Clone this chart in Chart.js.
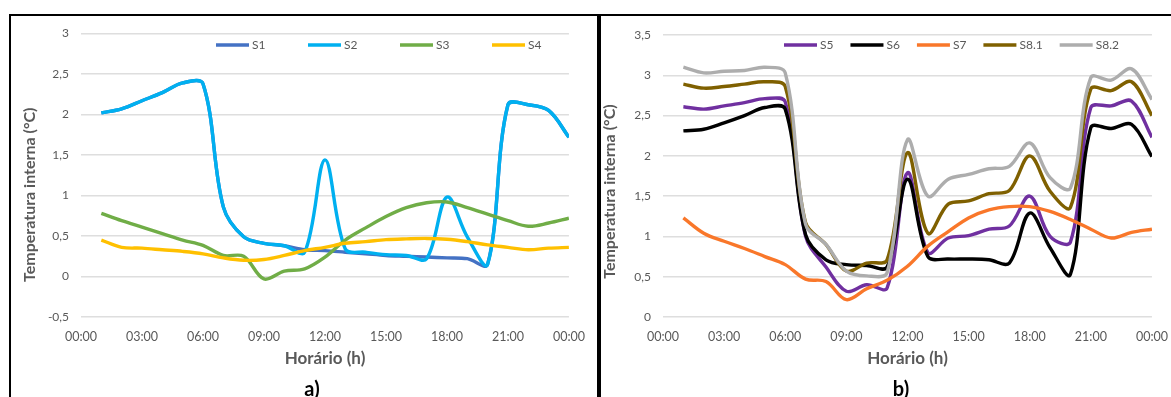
<!DOCTYPE html>
<html>
<head>
<meta charset="utf-8">
<script src="https://cdn.jsdelivr.net/npm/chart.js@4.4.0/dist/chart.umd.min.js"></script>
<style>
    html, body { margin: 0; padding: 0; background: #fff; width: 1171px; height: 397px; overflow: hidden; position: relative; font-family: Lato, sans-serif; }
    #chartA { position: absolute; left: 0; top: 0; }
    #chartB { position: absolute; left: 600px; top: 0; }
    .rule { position: absolute; background: #000; }
    .tag { position: absolute; font-weight: bold; font-size: 20px; line-height: 20px; color: #000; transform: translateX(-50%); }
</style>
</head>
<body>
<canvas id="chartA" width="597" height="397"></canvas>
<canvas id="chartB" width="580" height="397"></canvas>
<div class="rule" style="left:9px;top:14px;width:1162px;height:2px"></div>
<div class="rule" style="left:9px;top:14px;width:2px;height:383px"></div>
<div class="rule" style="left:597px;top:14px;width:4px;height:383px"></div>
<div class="tag" style="left:312px;top:378px">a)</div>
<div class="tag" style="left:901px;top:378px">b)</div>
<script>
// hours of the day (1 = 01:00 ... 24 = 00:00 of next day)
const hours = [1, 2, 3, 4, 5, 6, 7, 8, 9, 10, 11, 12, 13, 14, 15, 16, 17, 18, 19, 20, 21, 22, 23, 24];
const hourTicks = [0, 3, 6, 9, 12, 15, 18, 21, 24];

// painel a)
const s1 = [2.02, 2.07, 2.17, 2.27, 2.39, 2.38, 0.86, 0.49, 0.41, 0.38, 0.33, 0.32, 0.30, 0.28, 0.26, 0.25, 0.24, 0.23, 0.22, 0.15, 2.12, 2.12, 2.05, 1.72];
const s2 = [2.02, 2.07, 2.17, 2.27, 2.39, 2.38, 0.86, 0.49, 0.41, 0.38, 0.30, 1.44, 0.34, 0.30, 0.27, 0.26, 0.22, 0.98, 0.49, 0.15, 2.12, 2.12, 2.05, 1.72];
const s3 = [0.78, 0.69, 0.61, 0.53, 0.45, 0.385, 0.26, 0.25, -0.03, 0.066, 0.095, 0.24, 0.45, 0.60, 0.74, 0.85, 0.91, 0.92, 0.85, 0.77, 0.69, 0.62, 0.66, 0.72];
const s4 = [0.45, 0.36, 0.35, 0.33, 0.31, 0.28, 0.23, 0.20, 0.21, 0.26, 0.32, 0.36, 0.41, 0.43, 0.455, 0.465, 0.47, 0.46, 0.43, 0.39, 0.36, 0.33, 0.35, 0.36];

// painel b)
const s5 = [2.61, 2.58, 2.62, 2.66, 2.71, 2.67, 1.00, 0.62, 0.32, 0.40, 0.36, 1.79, 0.80, 0.98, 1.01, 1.09, 1.13, 1.50, 1.00, 0.93, 2.60, 2.62, 2.68, 2.23];
const s6 = [2.31, 2.33, 2.41, 2.50, 2.60, 2.58, 1.02, 0.71, 0.65, 0.64, 0.62, 1.71, 0.75, 0.72, 0.72, 0.71, 0.67, 1.29, 0.86, 0.53, 2.35, 2.34, 2.39, 1.99];
const s7 = [1.23, 1.04, 0.94, 0.85, 0.75, 0.65, 0.47, 0.44, 0.215, 0.35, 0.455, 0.63, 0.88, 1.06, 1.23, 1.33, 1.37, 1.37, 1.31, 1.21, 1.09, 0.98, 1.05, 1.09];
const s81 = [2.89, 2.84, 2.86, 2.89, 2.92, 2.86, 1.17, 0.90, 0.57, 0.67, 0.71, 2.04, 1.04, 1.40, 1.44, 1.53, 1.57, 2.00, 1.56, 1.36, 2.83, 2.81, 2.92, 2.50];
const s82 = [3.10, 3.03, 3.05, 3.06, 3.10, 3.03, 1.15, 0.90, 0.57, 0.51, 0.55, 2.20, 1.50, 1.71, 1.77, 1.84, 1.87, 2.16, 1.73, 1.60, 2.97, 2.94, 3.08, 2.70];

const textColor = '#595959';
Chart.defaults.font.family = 'Lato, sans-serif';

const toPoints = (values) => hours.map((h, i) => ({x: h, y: values[i]}));

const makeDataset = (label, values, color, index) => ({
    label: label,
    data: toPoints(values),
    borderColor: color,
    backgroundColor: color,
    borderWidth: 3.4,
    pointRadius: 0,
    tension: 0.35,
    fill: false,
    order: -index
});

// legenda desenhada dentro da área do gráfico, como no Excel
const lineLegend = {
    id: 'lineLegend',
    afterDraw(chart, args, opts) {
        const ctx = chart.ctx;
        ctx.save();
        ctx.font = '12px Lato, sans-serif';
        ctx.textBaseline = 'middle';
        ctx.textAlign = 'left';
        let x = opts.x;
        chart.data.datasets.forEach((ds) => {
            ctx.strokeStyle = ds.borderColor;
            ctx.lineWidth = ds.borderWidth;
            ctx.beginPath();
            ctx.moveTo(x, opts.y);
            ctx.lineTo(x + opts.lineLength, opts.y);
            ctx.stroke();
            const tx = x + opts.lineLength + opts.gap;
            ctx.fillStyle = textColor;
            ctx.fillText(ds.label, tx, opts.y);
            const w = ctx.measureText(ds.label).width;
            x = opts.itemWidth ? x + opts.itemWidth : tx + w + opts.spacing;
        });
        ctx.restore();
    }
};

const makeChart = (canvasId, datasets, yMin, yMax, cfg) => {
    const ctx = document.getElementById(canvasId).getContext('2d');
    return new Chart(ctx, {
        type: 'line',
        data: {datasets: datasets},
        plugins: [lineLegend],
        options: {
            responsive: false,
            animation: false,
            layout: {padding: cfg.padding},
            plugins: {
                legend: {display: false},
                tooltip: {enabled: false},
                lineLegend: cfg.legend
            },
            scales: {
                x: {
                    type: 'linear',
                    min: 0,
                    max: 24,
                    afterBuildTicks: (scale) => {
                        scale.ticks = hourTicks.map(v => ({value: v}));
                    },
                    afterFit: (scale) => { scale.height = 52; },
                    grid: {display: false, drawTicks: false},
                    border: {display: false},
                    ticks: {
                        autoSkip: false,
                        maxRotation: 0,
                        padding: 12,
                        color: textColor,
                        font: {size: 12.5},
                        callback: (v) => String(v % 24).padStart(2, '0') + ':00'
                    },
                    title: {
                        display: true,
                        text: 'Horário (h)',
                        color: textColor,
                        font: {size: 17, weight: 'bold'},
                        padding: {top: 0, bottom: 0}
                    }
                },
                y: {
                    min: yMin,
                    max: yMax,
                    afterFit: (scale) => { scale.width = cfg.yWidth; },
                    grid: {color: '#DEDEDE', lineWidth: 1.5, drawTicks: false},
                    border: {display: false},
                    ticks: {
                        stepSize: 0.5,
                        padding: 12,
                        color: textColor,
                        font: {size: 12},
                        callback: (v) => String(v).replace('.', ',')
                    },
                    title: {
                        display: true,
                        text: 'Temperatura interna (°C)' + cfg.titleShift,
                        color: textColor,
                        font: {size: 16, weight: 'bold'},
                        padding: {top: cfg.titlePad, bottom: 0}
                    }
                }
            }
        }
    });
};

makeChart('chartA', [
    makeDataset('S1', s1, '#4472C4', 0),
    makeDataset('S2', s2, '#00B0F0', 1),
    makeDataset('S3', s3, '#70AD47', 2),
    makeDataset('S4', s4, '#FFC000', 3)
], -0.5, 3, {
    padding: {left: 11, top: 33.5, right: 26, bottom: 28},
    yWidth: 70,
    titlePad: 9,
    titleShift: '\u00a0'.repeat(10),
    legend: {x: 216, y: 45, lineLength: 33, gap: 3, itemWidth: 92}
});

makeChart('chartB', [
    makeDataset('S5', s5, '#7030A0', 0),
    makeDataset('S6', s6, '#000000', 1),
    makeDataset('S7', s7, '#F9772A', 2),
    makeDataset('S8.1', s81, '#7F6000', 3),
    makeDataset('S8.2', s82, '#ADADAD', 4)
], 0, 3.5, {
    padding: {left: 0, top: 35, right: 23, bottom: 28},
    yWidth: 63,
    titlePad: 0,
    titleShift: '\u00a0'.repeat(8),
    legend: {x: 184, y: 45, lineLength: 33, gap: 3, spacing: 17}
});
</script>
</body>
</html>
